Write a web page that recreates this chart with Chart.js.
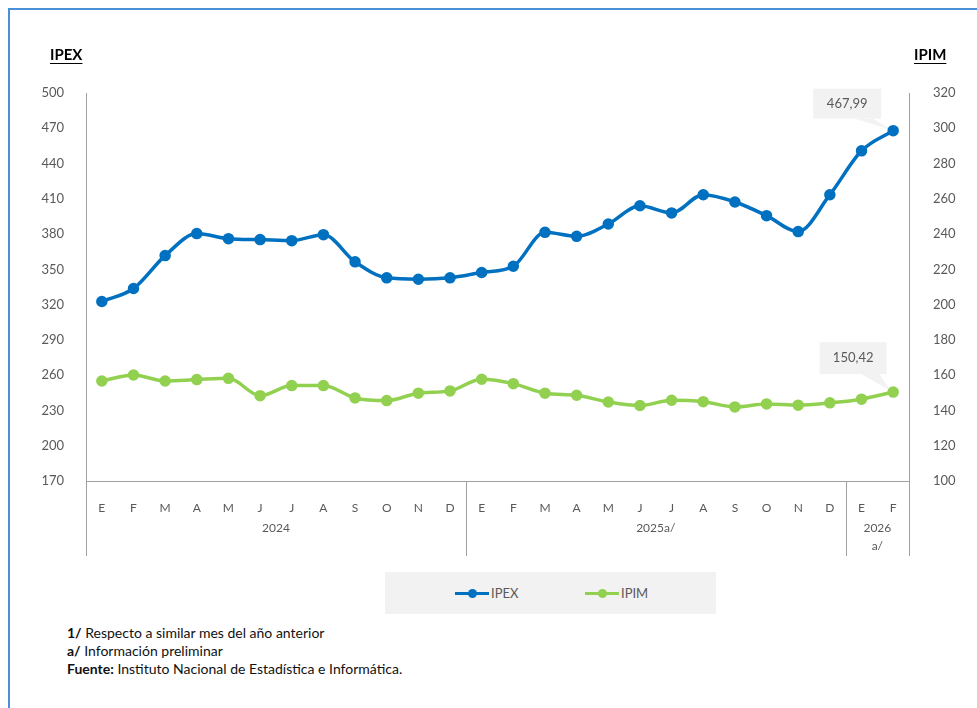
<!DOCTYPE html>
<html>
<head>
<meta charset="utf-8">
<script src="https://cdn.jsdelivr.net/npm/chart.js@4.4.1/dist/chart.umd.min.js"></script>
<style>
  body { margin: 0; background: #fff; font-family: Lato, "Open Sans", sans-serif; }
  #wrap { position: relative; width: 977px; height: 708px; overflow: hidden; }
  #frame { position: absolute; left: 8px; top: 8px; width: 1000px; height: 720px; border-top: 2px solid #4a90d9; border-left: 2px solid #4a90d9; }
  #cv { position: absolute; left: 0; top: 0; }
  .ttl { position: absolute; top: 45px; font-weight: bold; font-size: 15px; color: #000; text-decoration: underline; text-underline-offset: 3px; }
  #legend { position: absolute; left: 385px; top: 572px; width: 331px; height: 42px; background: #f2f2f2; font-size: 13px; color: #595959; }
  .lg { position: absolute; top: 13px; display: flex; align-items: center; }
  .lg .ln { position: relative; width: 34px; height: 3px; margin-right: 2px; }
  .lg .ln i { position: absolute; left: 13px; top: -3px; width: 9px; height: 9px; border-radius: 50%; }
  #notes { position: absolute; left: 67px; top: 624px; font-size: 14px; color: #111; line-height: 18px; }
</style>
</head>
<body>
<div id="wrap">
  <div id="frame"></div>
  <canvas id="cv"></canvas>
  <div class="ttl" style="left:50px">IPEX</div>
  <div class="ttl" style="left:914px">IPIM</div>
  <div id="legend">
    <div class="lg" style="left:70px"><span class="ln" style="background:#0070c0"><i style="background:#0070c0"></i></span>IPEX</div>
    <div class="lg" style="left:200px"><span class="ln" style="background:#92d050"><i style="background:#92d050"></i></span>IPIM</div>
  </div>
  <div id="notes">
    <div><b>1/</b> Respecto a similar mes del año anterior</div>
    <div><b>a/</b> Información preliminar</div>
    <div><b>Fuente:</b> Instituto Nacional de Estadística e Informática.</div>
  </div>
</div>
<script>
// meses E 2024 .. F 2026
const months = ['E','F','M','A','M','J','J','A','S','O','N','D',
                'E','F','M','A','M','J','J','A','S','O','N','D',
                'E','F'];
const years = [['2024'], ['2025a/'], ['2026', 'a/']];
const yearSizes = [12, 12, 2];

const ipex = [322.7, 333.7, 361.7, 380.4, 376.1, 375.3, 374.4, 379.5, 356.4, 342.8, 341.6, 342.8,
              347.3, 352.6, 381.5, 378.1, 388.6, 404.1, 398.0, 413.5, 407.3, 395.7, 382.1, 413.5,
              450.8, 467.99];
const ipim = [156.7, 160.1, 156.7, 157.5, 158.2, 148.4, 154.1, 154.1, 147.1, 145.6, 149.8, 151.1,
              157.7, 155.2, 149.8, 148.6, 144.8, 142.8, 145.8, 145.0, 142.0, 143.7, 143.0, 144.3,
              146.4, 150.42];

const BLUE = '#0070c0', GREEN = '#92d050', AXIS = '#a0a0a0', TXT = '#595959';

const cv = document.getElementById('cv');
cv.width = 977; cv.height = 570;
cv.style.width = '977px'; cv.style.height = '570px';

const fmt = v => v.toFixed(2).replace('.', ',');

// cajas de etiqueta y separadores de año
const extras = {
  id: 'extras',
  beforeDatasetsDraw(chart) {
    const { ctx, chartArea, scales } = chart;
    const x = scales.x;
    ctx.save();
    ctx.strokeStyle = AXIS;
    ctx.lineWidth = 1;
    // separadores de año
    let idx = 0;
    const edges = [chartArea.left];
    yearSizes.forEach((n, i) => {
      idx += n;
      if (idx < months.length) {
        edges.push((x.getPixelForValue(idx - 1) + x.getPixelForValue(idx)) / 2);
      } else {
        edges.push(chartArea.right);
      }
    });
    edges.forEach(e => {
      ctx.beginPath();
      ctx.moveTo(Math.round(e) + 0.5, chartArea.bottom);
      ctx.lineTo(Math.round(e) + 0.5, chartArea.bottom + 75);
      ctx.stroke();
    });
    ctx.fillStyle = TXT;
    ctx.font = '12px Lato, "Open Sans", sans-serif';
    ctx.textAlign = 'center';
    ctx.textBaseline = 'middle';
    years.forEach((lines, i) => {
      const cx = (edges[i] + edges[i + 1]) / 2;
      lines.forEach((t, k) => ctx.fillText(t, cx, chartArea.bottom + 47 + k * 18));
    });

    // cajas de último valor
    const boxes = [
      { ds: 0, dx: -46, dy: -27, w: 68, h: 30 },
      { ds: 1, dx: -40, dy: -34, w: 67, h: 32 }
    ];
    boxes.forEach(b => {
      const meta = chart.getDatasetMeta(b.ds);
      const last = meta.data[meta.data.length - 1];
      const cx = last.x + b.dx, cy = last.y + b.dy;
      const val = chart.data.datasets[b.ds].data.at(-1);
      ctx.fillStyle = '#f2f2f2';
      ctx.fillRect(cx - b.w / 2, cy - b.h / 2, b.w, b.h);
      ctx.beginPath();
      ctx.moveTo(cx + 8, cy + b.h / 2);
      ctx.lineTo(cx + 26, cy + b.h / 2);
      ctx.lineTo(last.x - 2, last.y - 1);
      ctx.closePath();
      ctx.fill();
      ctx.fillStyle = TXT;
      ctx.font = '13px Lato, "Open Sans", sans-serif';
      ctx.fillText(fmt(val), cx, cy);
    });
    ctx.restore();
  }
};

new Chart(cv, {
  type: 'line',
  data: {
    labels: months,
    datasets: [
      { label: 'IPEX', data: ipex, yAxisID: 'y', borderColor: BLUE, backgroundColor: BLUE,
        borderWidth: 3.5, pointRadius: 4, pointBackgroundColor: BLUE, pointBorderColor: BLUE,
        tension: 0.35, cubicInterpolationMode: 'monotone' },
      { label: 'IPIM', data: ipim, yAxisID: 'y1', borderColor: GREEN, backgroundColor: GREEN,
        borderWidth: 3.5, pointRadius: 4, pointBackgroundColor: GREEN, pointBorderColor: GREEN,
        tension: 0.35, cubicInterpolationMode: 'monotone' }
    ]
  },
  options: {
    responsive: false,
    animation: false,
    layout: { padding: { top: 93, left: 0, right: 0, bottom: 0 } },
    plugins: { legend: { display: false }, tooltip: { enabled: false } },
    scales: {
      x: {
        offset: true,
        grid: { display: false },
        border: { display: true, color: AXIS, width: 1 },
        ticks: { color: TXT, font: { size: 12, family: 'Lato' }, padding: 12, autoSkip: false, maxRotation: 0 },
        afterFit(s) { s.height = 89; }
      },
      y: {
        position: 'left', min: 170, max: 500,
        grid: { display: false },
        border: { display: true, color: AXIS, width: 1 },
        ticks: { stepSize: 30, color: TXT, font: { size: 13, family: 'Lato' }, padding: 14 },
        afterFit(s) { s.width = 86; }
      },
      y1: {
        position: 'right', min: 100, max: 320,
        grid: { display: false },
        border: { display: true, color: AXIS, width: 1 },
        ticks: { stepSize: 20, color: TXT, font: { size: 13, family: 'Lato' }, padding: 16 },
        afterFit(s) { s.width = 68; }
      }
    }
  },
  plugins: [extras]
});
</script>
</body>
</html>
